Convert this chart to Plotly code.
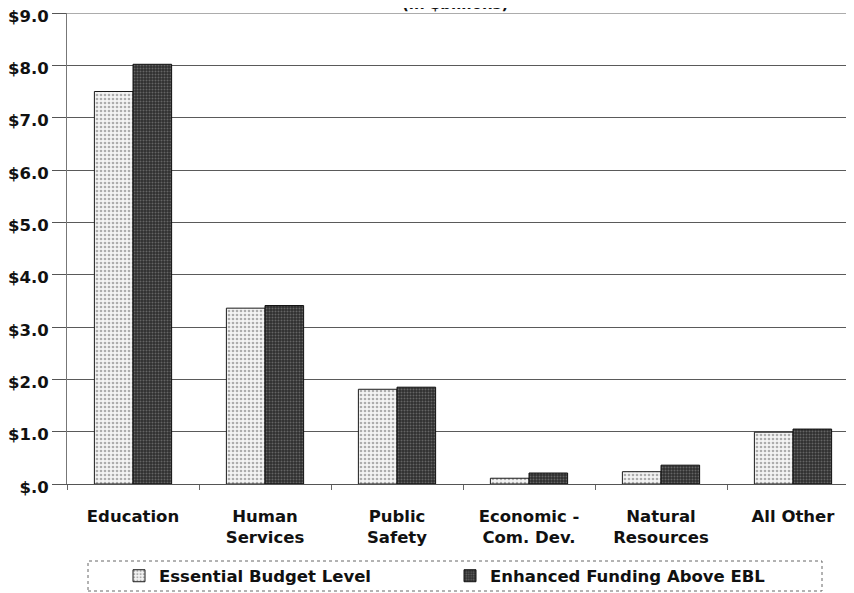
import plotly.graph_objects as go

categories = ["Education", "Human<br>Services", "Public<br>Safety", "Economic -<br>Com. Dev.", "Natural<br>Resources", "All Other"]
essential = [7.5, 3.36, 1.81, 0.11, 0.235, 0.99]
enhanced = [8.02, 3.41, 1.85, 0.21, 0.36, 1.05]
series_names = ["Essential Budget Level", "Enhanced Funding Above EBL"]
y_tickvals = [0, 1, 2, 3, 4, 5, 6, 7, 8, 9]
y_ticktext = ["$.0", "$1.0", "$2.0", "$3.0", "$4.0", "$5.0", "$6.0", "$7.0", "$8.0", "$9.0"]
title_text = "(in $billions)"

FONT = "DejaVu Sans, Liberation Sans, Arial, sans-serif"

fig = go.Figure()
fig.add_trace(go.Bar(
    x=categories, y=essential, name=series_names[0],
    marker=dict(color="#f2f2f2",
                line=dict(color="#1a1a1a", width=1),
                pattern=dict(shape=".", fgcolor="#666666", bgcolor="#f4f4f4", size=4, solidity=0.35)),
))
fig.add_trace(go.Bar(
    x=categories, y=enhanced, name=series_names[1],
    marker=dict(color="#333333",
                line=dict(color="#111111", width=1),
                pattern=dict(shape=".", fgcolor="#9a9a9a", bgcolor="#2e2e2e", size=3, solidity=0.35)),
))

# the page adds an 8px body margin; figure coordinates below are page coords minus 8
OFF = 8
W, H = 854, 593
L, T = 67 - OFF, 13 - OFF
plot_bottom = 484 - OFF
plot_right = L + 792
R, B = W - plot_right, H - plot_bottom
pw, ph = W - L - R, H - T - B

def px_x(x):  # page x -> paper
    return (x - OFF - L) / pw

def px_y(y):  # page y -> paper
    return (plot_bottom - (y - OFF)) / ph

fig.update_layout(
    width=W, height=H,
    margin=dict(l=L, r=R, t=T, b=B, pad=0, autoexpand=False),
    paper_bgcolor="white", plot_bgcolor="white",
    barmode="group", bargap=0.415, bargroupgap=0,
    font=dict(family=FONT, color="#111111"),
    showlegend=True,
    legend=dict(orientation="h", xref="container", yref="container",
                x=(159 - OFF - 40) / W, xanchor="left", y=1 - (576 - OFF) / H, yanchor="middle",
                font=dict(family=FONT, size=16.5, color="#111111", weight="bold"),
                entrywidth=286, entrywidthmode="pixels", itemwidth=30,
                bgcolor="rgba(0,0,0,0)", borderwidth=0, traceorder="normal"),
    xaxis=dict(type="category", range=[-0.5, 5.5], automargin=False,
               showgrid=False, showline=True, linecolor="#555555", linewidth=1,
               ticks="outside", ticklen=5, tickcolor="#666666", tickson="boundaries",
               tickfont=dict(family=FONT, size=16.5, color="#111111", weight="bold"),
               ticklabelstandoff=17),
    yaxis=dict(range=[0, 9], tickvals=y_tickvals, ticktext=y_ticktext, automargin=False,
               showgrid=True, gridcolor="#5a5a5a", gridwidth=1,
               showline=True, linecolor="#777777", linewidth=1,
               ticks="outside", ticklen=14, tickcolor="#555555",
               ticklabeloverflow="allow", ticklabelshift=3,
               tickfont=dict(family=FONT, size=16.5, color="#111111", weight="bold"),
               zeroline=False, fixedrange=True),
    annotations=[dict(text=title_text, xref="paper", yref="paper", x=px_x(455), y=1,
                      xanchor="center", yanchor="bottom", yshift=-2, showarrow=False,
                      font=dict(family=FONT, size=15, color="#111111", weight="bold"))],
    shapes=[
        dict(type="line", xref="paper", yref="y", x0=0, x1=1, y0=y_tickvals[-1], y1=y_tickvals[-1],
             line=dict(color="#5a5a5a", width=1), layer="below"),
        dict(type="rect", xref="paper", yref="paper",
             x0=px_x(88), x1=px_x(822), y0=px_y(591), y1=px_y(561),
             line=dict(color="#666666", width=1, dash="dot"), fillcolor="rgba(0,0,0,0)"),
    ],
)

fig.write_html("out.html")
